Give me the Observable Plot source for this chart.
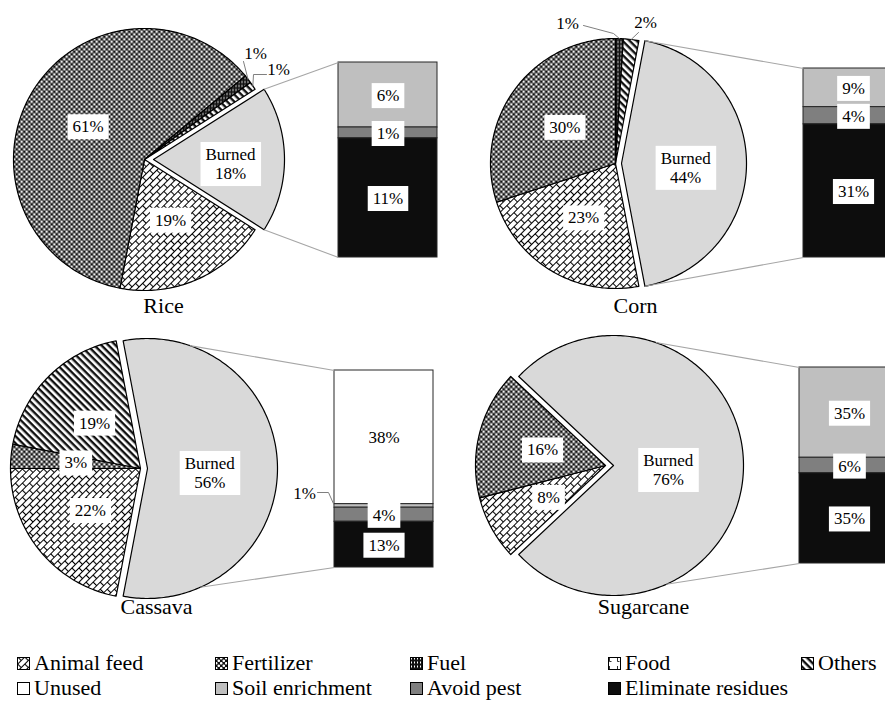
<!DOCTYPE html>
<html><head><meta charset="utf-8">
<script src="https://cdn.jsdelivr.net/npm/d3@7"></script>
<script src="https://cdn.jsdelivr.net/npm/@observablehq/plot@0.6"></script>
<style>
html,body{margin:0;padding:0;background:#fff;overflow:hidden;}
#fig{position:relative;width:885px;height:702px;font-family:"Liberation Serif","Times New Roman",serif;color:#000;}
.panel{position:absolute;overflow:hidden;}
.lg{position:absolute;display:flex;align-items:center;font-size:22px;line-height:22px;white-space:nowrap;}
.lg svg{margin-right:4px;flex:none;}
</style></head><body>
<svg width="0" height="0" style="position:absolute"><defs>
<pattern id="p-feed" width="10" height="10" patternUnits="userSpaceOnUse" patternTransform="rotate(-45)">
<rect width="10" height="10" fill="#fff"/>
<path d="M0 0.5H10M0 5.5H10M0.5 0.5V5.5M5.5 5.5V10.5" stroke="#000" stroke-width="1.1" fill="none"/>
</pattern>
<pattern id="p-fert" width="5" height="5" patternUnits="userSpaceOnUse">
<rect width="5" height="5" fill="#111"/>
<circle cx="1.25" cy="1.25" r="1.3" fill="#fff"/><circle cx="3.75" cy="3.75" r="1.3" fill="#fff"/>
</pattern>
<pattern id="p-fuel" width="3" height="4" patternUnits="userSpaceOnUse">
<rect width="3" height="4" fill="#111"/><rect x="1" y="0.5" width="1" height="2" fill="#fff"/>
</pattern>
<pattern id="p-food" width="8" height="8" patternUnits="userSpaceOnUse">
<rect width="8" height="8" fill="#fff"/><path d="M1.5 1V4.5H3.5" stroke="#000" stroke-width="0.8" fill="none"/>
</pattern>
<pattern id="p-oth" width="5" height="5" patternUnits="userSpaceOnUse" patternTransform="rotate(45)">
<rect width="5" height="5" fill="#fff"/><rect width="5" height="2.4" fill="#111"/>
</pattern>
</defs></svg>
<div id="fig"></div>
<script>
// ---------------- data ----------------
const crops = ["Rice", "Corn", "Cassava", "Sugarcane"];
const pieCategories = ["Burned", "Animal feed", "Fertilizer", "Fuel", "Food", "Others"];
const riceShares      = [18, 19, 61, 1, 0, 1];
const cornShares      = [44, 23, 30, 1, 0, 2];
const cassavaShares   = [56, 22, 3, 0, 0, 19];
const sugarcaneShares = [76, 8, 16, 0, 0, 0];
const barCategories = ["Unused", "Soil enrichment", "Avoid pest", "Eliminate residues"];
const riceBurned      = [0, 6, 1, 11];
const cornBurned      = [0, 9, 4, 31];
const cassavaBurned   = [38, 1, 4, 13];
const sugarcaneBurned = [0, 35, 6, 35];
const legendRow1 = ["Animal feed", "Fertilizer", "Fuel", "Food", "Others"];
const legendRow2 = ["Unused", "Soil enrichment", "Avoid pest", "Eliminate residues"];

// ---------------- styling ----------------
const fills = {
  "Burned": "#d9d9d9",
  "Animal feed": "url(#p-feed)",
  "Fertilizer": "url(#p-fert)",
  "Fuel": "url(#p-fuel)",
  "Food": "url(#p-food)",
  "Others": "url(#p-oth)",
  "Unused": "#ffffff",
  "Soil enrichment": "#bfbfbf",
  "Avoid pest": "#7f7f7f",
  "Eliminate residues": "#0d0d0d"
};
const FONT = '"Liberation Serif","Times New Roman",serif';
const BOXTEXT = "#010101"; // marks the labels that get a white box
const dataByCrop = {
  Rice: [riceShares, riceBurned],
  Corn: [cornShares, cornBurned],
  Cassava: [cassavaShares, cassavaBurned],
  Sugarcane: [sugarcaneShares, sugarcaneBurned]
};
// layout (pixels, panel-local)
const layouts = {
  Rice: {left: 0, top: 0, W: 442, H: 320, cx: 144, cy: 159, r: 131, explode: 9,
    bar: [338, 437, 62, 257], title: [163, 305],
    outside: {Fuel: {pos: [255, 53], path: [[243, 61]]}, Others: {pos: [278, 69], path: [[266, 74], [253, 74]]}}},
  Corn: {left: 442, top: 0, W: 443, H: 320, cx: 173, cy: 163, r: 125, explode: 6,
    bar: [361, 461, 68, 257], title: [193, 305],
    outside: {Fuel: {pos: [125, 23], path: [[141, 25], [171, 33]]}, Others: {pos: [203, 22], path: [[196, 32]]}}},
  Cassava: {left: 0, top: 320, W: 442, H: 300, cx: 140, cy: 148, r: 130, explode: 7,
    bar: [334, 433, 50, 247], title: [156, 286],
    barOutside: {"Soil enrichment": {pos: [304, 173], path: [[317, 172], [328, 172]]}}},
  Sugarcane: {left: 442, top: 320, W: 443, H: 300, cx: 163, cy: 145, r: 130, explode: 8,
    bar: [357, 457, 47, 243], title: [201, 286]}
};

const fig = document.getElementById("fig");
const svgns = "http://www.w3.org/2000/svg";

function arcPoints(ox, a0, a1) {
  const n = Math.max(2, Math.ceil((a1 - a0) / (Math.PI / 180)));
  const pts = [{x: ox, y: 0}];
  for (let i = 0; i <= n; i++) {
    const t = a0 + (a1 - a0) * i / n;
    pts.push({x: ox + Math.cos(t), y: Math.sin(t)});
  }
  return pts;
}

function drawPanel(crop) {
  const [shares, burned] = dataByCrop[crop];
  const L = layouts[crop];
  const {cx, cy, r, W, H} = L;
  const X = px => (px - cx) / r, Y = py => (py - cy) / r;
  const total = d3.sum(shares);
  const ang = v => v / total * 2 * Math.PI;
  const ex = L.explode / r;

  // slices, Burned centred on the right, rest clockwise
  let a = -ang(shares[0]) / 2;
  const slices = [];
  pieCategories.forEach((cat, i) => {
    const v = shares[i];
    if (!v) return;
    const a0 = a, a1 = a + ang(v);
    a = a1;
    slices.push({cat, v, a0, a1, mid: (a0 + a1) / 2, ox: cat === "Burned" ? ex : 0});
  });

  const marks = [];
  for (const s of slices) {
    marks.push(Plot.line(arcPoints(s.ox, s.a0, s.a1), {
      x: "x", y: "y", fill: fills[s.cat], stroke: "#000", strokeWidth: 1.2, curve: "linear-closed"
    }));
  }

  // bar of the Burned share
  const [bx1, bx2, by1, by2] = L.bar;
  const bsum = d3.sum(burned);
  const k = (Y(by2) - Y(by1)) / bsum;
  let yy = Y(by1);
  const segs = [];
  barCategories.forEach((cat, i) => {
    const v = burned[i];
    if (!v) return;
    segs.push({cat, v, y1: yy, y2: yy + v * k});
    yy += v * k;
  });
  marks.push(Plot.rect(segs, {x1: () => X(bx1), x2: () => X(bx2), y1: "y1", y2: "y2",
    fill: d => fills[d.cat], stroke: "#262626", strokeWidth: 1}));

  // connectors
  const B = slices.find(s => s.cat === "Burned");
  const half = (B.a1 - B.a0) / 2;
  const ta = half <= Math.PI / 2 ? -half : -71 * Math.PI / 180;
  const ba = half <= Math.PI / 2 ? half : 66 * Math.PI / 180;
  const links = [
    {x1: ex + Math.cos(ta), y1: Math.sin(ta), x2: X(bx1), y2: Y(by1)},
    {x1: ex + Math.cos(ba), y1: Math.sin(ba), x2: X(bx1), y2: Y(by2)}
  ];
  marks.push(Plot.link(links, {x1: "x1", y1: "y1", x2: "x2", y2: "y2", stroke: "#a6a6a6", strokeWidth: 1.1}));

  // labels
  const labels = [];
  const leaders = [];
  for (const s of slices) {
    const txt = s.cat === "Burned" ? `Burned\n${s.v}%` : `${s.v}%`;
    const out = L.outside && L.outside[s.cat];
    if (out) {
      labels.push({x: X(out.pos[0]), y: Y(out.pos[1]), text: txt, box: false});
      const pts = out.path.map(([px, py]) => ({x: X(px), y: Y(py)}));
      pts.push({x: Math.cos(s.mid), y: Math.sin(s.mid)});
      pts.forEach(p => p.id = s.cat);
      leaders.push(...pts);
    } else {
      const deg = (s.a1 - s.a0) * 180 / Math.PI;
      const kk = s.cat === "Burned" ? 0.64 - 0.0008 * deg : 0.5;
      labels.push({x: s.ox + kk * Math.cos(s.mid), y: kk * Math.sin(s.mid) + (s.cat === "Burned" ? 0.03 : 0), text: txt, box: true});
    }
  }
  for (const g of segs) {
    const out = L.barOutside && L.barOutside[g.cat];
    if (out) {
      labels.push({x: X(out.pos[0]), y: Y(out.pos[1]), text: `${g.v}%`, box: false});
      const pts = out.path.map(([px, py]) => ({x: X(px), y: Y(py)}));
      pts.push({x: X(bx1), y: (g.y1 + g.y2) / 2});
      pts.forEach(p => p.id = "bar-" + g.cat);
      leaders.push(...pts);
    } else {
      labels.push({x: (X(bx1) + X(bx2)) / 2, y: (g.y1 + g.y2) / 2, text: `${g.v}%`, box: true});
    }
  }
  marks.push(Plot.line(leaders, {x: "x", y: "y", z: "id", stroke: "#7f7f7f", strokeWidth: 1}));
  marks.push(Plot.text(labels.filter(d => d.box), {x: "x", y: "y", text: "text", fontSize: 17, lineHeight: 1.12, fill: BOXTEXT}));
  marks.push(Plot.text(labels.filter(d => !d.box), {x: "x", y: "y", text: "text", fontSize: 17, fill: "#000"}));
  marks.push(Plot.text([crop], {x: () => X(L.title[0]), y: () => Y(L.title[1]), text: d => d, fontSize: 22, fill: "#000"}));

  const plot = Plot.plot({
    width: W, height: H,
    marginTop: 0, marginRight: 0, marginBottom: 0, marginLeft: 0,
    x: {domain: [X(0), X(W)], range: [0, W], axis: null},
    y: {domain: [Y(0), Y(H)], range: [0, H], axis: null},
    color: {type: "identity"},
    style: {fontFamily: FONT, fontSize: "17px", background: "transparent", overflow: "hidden"},
    marks
  });
  const div = document.createElement("div");
  div.className = "panel";
  div.style.left = L.left + "px";
  div.style.top = L.top + "px";
  div.style.width = W + "px";
  div.style.height = H + "px";
  div.appendChild(plot);
  fig.appendChild(div);

  // white boxes behind the data labels
  plot.querySelectorAll("text").forEach(t => {
    const f = (t.getAttribute("fill") || (t.parentNode && t.parentNode.getAttribute && t.parentNode.getAttribute("fill")) || "").toLowerCase();
    if (f !== BOXTEXT) return;
    const b = t.getBBox();
    const rect = document.createElementNS(svgns, "rect");
    const padX = 5, padY = 3;
    rect.setAttribute("x", b.x - padX);
    rect.setAttribute("y", b.y - padY);
    rect.setAttribute("width", b.width + 2 * padX);
    rect.setAttribute("height", b.height + 2 * padY);
    rect.setAttribute("fill", "#fff");
    rect.setAttribute("stroke", "none");
    const tr = t.getAttribute("transform");
    if (tr) rect.setAttribute("transform", tr);
    t.parentNode.insertBefore(rect, t);
  });
}

crops.forEach(drawPanel);

// ---------------- legend ----------------
const colX = [17, 215, 410, 608, 801];
const rowY = [663, 688];
[legendRow1, legendRow2].forEach((row, ri) => {
  row.forEach((name, ci) => {
    const el = document.createElement("div");
    el.className = "lg";
    el.style.left = colX[ci] + "px";
    el.style.top = (rowY[ri] - 11) + "px";
    el.innerHTML = `<svg width="13" height="13"><rect x="0.5" y="0.5" width="12" height="12" fill="${fills[name]}" stroke="#000" stroke-width="1"/></svg><span>${name}</span>`;
    fig.appendChild(el);
  });
});
</script>
</body></html>
